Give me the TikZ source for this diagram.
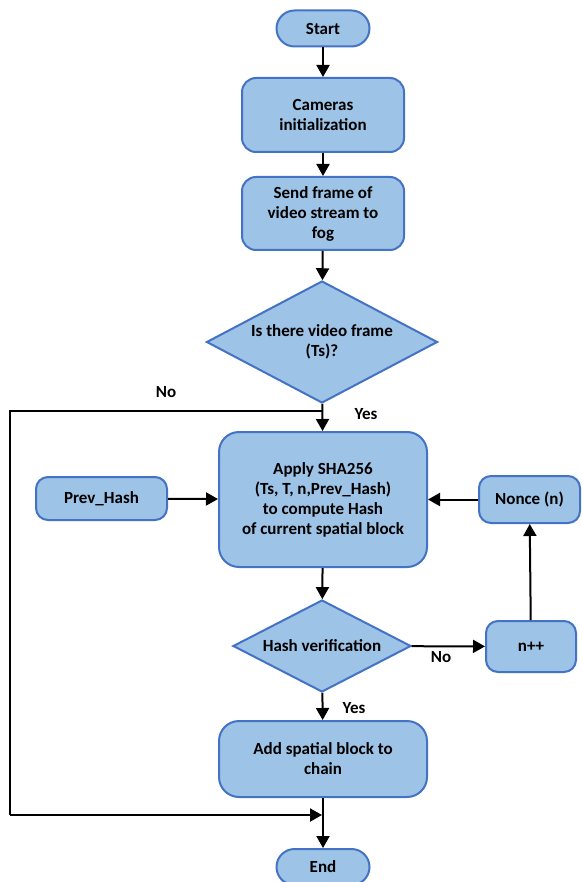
\documentclass[tikz,border=0pt]{standalone}
\usepackage{fontspec}
\setmainfont{Carlito}
\usetikzlibrary{shapes.geometric,arrows.meta}
\definecolor{boxfill}{HTML}{9DC3E6}
\definecolor{boxedge}{HTML}{4472C4}
\tikzset{
  base/.style={draw=boxedge, fill=boxfill, line width=2pt, align=center,
    font=\bfseries\fontsize{17}{20}\selectfont, inner sep=0pt},
  terminal/.style={base, rounded corners=18pt, minimum width=93pt, minimum height=36pt},
  procbox/.style={base, rounded corners=14pt},
  decision/.style={base, diamond},
  flow/.style={line width=2pt, -{Triangle[length=12pt,width=13pt]}},
  plain/.style={line width=2pt},
  lbl/.style={font=\bfseries\fontsize{17}{20}\selectfont, inner sep=0pt}
}
\begin{document}
\begin{tikzpicture}[x=1pt,y=-1pt]
\useasboundingbox (0,0) rectangle (581,882);

% main column
\node[terminal] (start) at (323,28.5) {Start};
\node[procbox, minimum width=162pt, minimum height=74pt] (cam) at (323,115) {Cameras\\initialization};
\node[procbox, minimum width=162pt, minimum height=73pt] (send) at (323,213.5) {Send frame of\\video stream to\\fog};
\node[decision, minimum width=231pt, minimum height=122pt, shape aspect=1.9] (frame) at (322,342) {Is there video frame\\(Ts)?};
\node[procbox, rounded corners=20pt, minimum width=208pt, minimum height=135pt] (hash) at (323,499.5) {Apply SHA256\\(Ts, T, n,Prev\_Hash)\\to compute Hash\\of current spatial block};
\node[decision, minimum width=178pt, minimum height=92pt, shape aspect=1.93] (verify) at (322,646) {Hash verification};
\node[procbox, rounded corners=20pt, minimum width=208pt, minimum height=76pt] (add) at (323,759) {Add spatial block to\\chain};
\node[terminal] (end) at (323,867) {End};

% side boxes
\node[procbox, rounded corners=12pt, minimum width=131pt, minimum height=43pt] (prev) at (101.5,498.5) {Prev\_Hash};
\node[procbox, rounded corners=12pt, minimum width=101pt, minimum height=47pt] (nonce) at (529.5,499.5) {Nonce (n)};
\node[procbox, rounded corners=12pt, minimum width=90pt, minimum height=51pt] (inc) at (531,646.5) {n++};

% labels
\node[lbl] (noA) at (166,392) {No};
\node[lbl] (yesA) at (366,414) {Yes};
\node[lbl] (noB) at (441,657) {No};
\node[lbl] (yesB) at (354,708) {Yes};

% junctions of the bypass line
\coordinate (split) at (322,411);
\coordinate (lefttop) at (10,411);
\coordinate (leftbot) at (10,815);
\coordinate (merge) at (322,815);

% connectors
\draw[flow] (start) -- (cam);
\draw[flow] (cam) -- (send);
\draw[flow] (send) -- (frame);
\draw[flow] (frame) -- (hash);
\draw[flow] (hash) -- (verify);
\draw[flow] (verify) -- (add);
\draw[flow] (add) -- (end);
\draw[flow] (prev) -- (hash);
\draw[flow] (nonce) -- (hash.east |- nonce);
\draw[flow] (verify) -- (inc);
\draw[flow] (inc) -- (nonce);
\draw[plain] (split) -- (lefttop) -- (leftbot);
\draw[flow] (leftbot) -- (merge);
\end{tikzpicture}
\end{document}
